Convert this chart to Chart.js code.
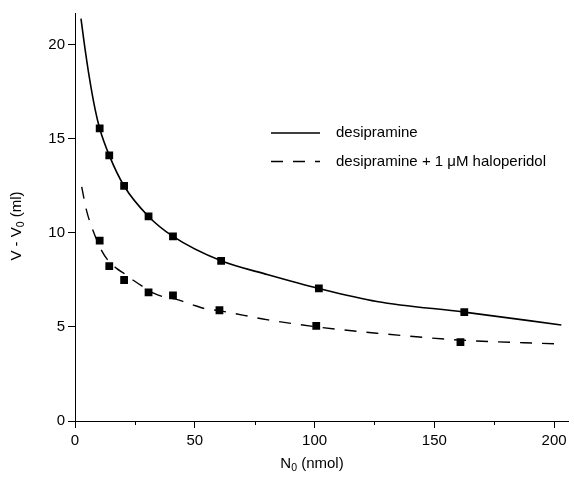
<!DOCTYPE html>
<html><head><meta charset="utf-8">
<script src="https://cdn.jsdelivr.net/npm/chart.js@4/dist/chart.umd.min.js"></script>
<style>html,body{margin:0;padding:0;background:#fff;}</style>
</head><body>
<canvas id="c" width="574" height="484" style="width:574px;height:484px;display:block"></canvas>
<script>
// fitted curve (desipramine)
const desiCurveX = [2.5, 3.85, 5.9, 8.4, 10.3, 14.3, 20.5, 30.7, 40.9, 61, 80.6, 101.8, 126, 162.5, 203];
const desiCurveY = [21.4, 20.1, 18.34, 16.57, 15.56, 14.13, 12.5, 10.88, 9.82, 8.52, 7.78, 7.05, 6.36, 5.79, 5.11];
// fitted curve (desipramine + haloperidol)
const haloCurveX = [2.8, 4.8, 7.6, 11.3, 13.8, 17.2, 20.9, 24.5, 28.9, 32.8, 36.5, 42, 45.5, 50.3, 54.4, 60, 80.6, 100, 126, 160, 201];
const haloCurveY = [12.45, 11.2, 10.1, 9.02, 8.54, 8.13, 7.81, 7.47, 7.10, 6.80, 6.62, 6.48, 6.34, 6.13, 5.97, 5.87, 5.38, 5.02, 4.67, 4.31, 4.10];
// measured points
const desiX = [10.3, 14.3, 20.5, 30.7, 40.9, 61.0, 101.8, 162.5];
const desiY = [15.56, 14.13, 12.50, 10.88, 9.82, 8.52, 7.05, 5.79];
const haloX = [10.3, 14.3, 20.5, 30.7, 40.9, 60.3, 100.7, 160.9];
const haloY = [9.59, 8.24, 7.50, 6.84, 6.68, 5.89, 5.06, 4.19];
// axes
const xTicksMajor = [0, 50, 100, 150, 200];
const yTicks = [0, 5, 10, 15, 20];
const legendLabels = ["desipramine", "desipramine + 1 \u03BCM haloperidol"];

const FONT = '"Liberation Sans", Arial, sans-serif';
const pts = (xs, ys) => xs.map((x, i) => ({x, y: ys[i]}));

function drawSubText(ctx, parts, x, y, size, align) {
  let total = 0;
  const widths = parts.map(([t, sub]) => {
    ctx.font = (sub ? size * 0.7 : size) + 'px ' + FONT;
    const w = ctx.measureText(t).width; total += w; return w;
  });
  let cx = align === 'center' ? x - total / 2 : x;
  parts.forEach(([t, sub], i) => {
    ctx.font = (sub ? size * 0.7 : size) + 'px ' + FONT;
    ctx.textAlign = 'left';
    ctx.textBaseline = 'middle';
    ctx.fillText(t, cx, sub ? y + size * 0.28 : y);
    cx += widths[i];
  });
}

const extras = {
  id: 'extras',
  afterDraw(chart) {
    const ctx = chart.ctx;
    const xs = chart.scales.x, ys = chart.scales.y;
    ctx.save();
    ctx.fillStyle = '#000';
    ctx.strokeStyle = '#000';
    ctx.lineWidth = 1;
    [25, 75, 125, 175].forEach(v => {
      const px = Math.round(xs.getPixelForValue(v)) + 0.5;
      ctx.beginPath(); ctx.moveTo(px, ys.bottom); ctx.lineTo(px, ys.bottom + 4); ctx.stroke();
    });
    drawSubText(ctx, [['N', false], ['0', true], [' (nmol)', false]], 312, 464, 15, 'center');
    ctx.save();
    ctx.translate(17, 226);
    ctx.rotate(-Math.PI / 2);
    drawSubText(ctx, [['V - V', false], ['0', true], [' (ml)', false]], 0, 0, 15, 'center');
    ctx.restore();
    const ds = chart.data.datasets;
    [[ds[0], 133], [ds[1], 161.5]].forEach(([d, y], i) => {
      ctx.lineWidth = d.borderWidth;
      ctx.setLineDash(d.borderDash || []);
      ctx.beginPath(); ctx.moveTo(271, y); ctx.lineTo(320, y); ctx.stroke();
      ctx.setLineDash([]);
      ctx.font = '15px ' + FONT;
      ctx.textAlign = 'left'; ctx.textBaseline = 'middle';
      ctx.fillText(legendLabels[i], 336, y);
    });
    ctx.restore();
  }
};

new Chart(document.getElementById('c'), {
  type: 'scatter',
  data: {
    datasets: [
      {type: 'line', label: legendLabels[0], data: pts(desiCurveX, desiCurveY), borderColor: '#000', borderWidth: 1.6,
       pointRadius: 0, fill: false, cubicInterpolationMode: 'monotone'},
      {type: 'line', label: legendLabels[1], data: pts(haloCurveX, haloCurveY), borderColor: '#000', borderWidth: 1.4,
       borderDash: [12, 10], pointRadius: 0, fill: false, cubicInterpolationMode: 'monotone'},
      {label: 'desi pts', data: pts(desiX, desiY), pointStyle: 'rect', pointRadius: 5.5, backgroundColor: '#000', borderColor: '#000', borderWidth: 0},
      {label: 'halo pts', data: pts(haloX, haloY), pointStyle: 'rect', pointRadius: 5.5, backgroundColor: '#000', borderColor: '#000', borderWidth: 0}
    ]
  },
  options: {
    responsive: false,
    animation: false,
    devicePixelRatio: 1,
    layout: {padding: {top: 13, right: 1, left: 0, bottom: 0}},
    plugins: {legend: {display: false}, tooltip: {enabled: false}},
    scales: {
      x: {
        type: 'linear', min: 0, max: 206,
        afterFit: s => { s.height = 63; },
        ticks: {stepSize: 25, includeBounds: false, autoSkip: false, maxRotation: 0, color: '#000', padding: 4,
                font: {family: FONT, size: 15},
                callback: v => xTicksMajor.includes(v) ? String(v) : ''},
        grid: {drawOnChartArea: false, drawTicks: true, tickLength: 7, color: '#000',
               tickColor: c => (c.tick && xTicksMajor.includes(c.tick.value)) ? '#000' : 'rgba(0,0,0,0)'},
        border: {display: true, color: '#000', width: 1}
      },
      y: {
        type: 'linear', min: 0, max: 21.7,
        afterFit: s => { s.width = 75; },
        ticks: {stepSize: 5, includeBounds: false, color: '#000', padding: 3,
                font: {family: FONT, size: 15},
                callback: v => yTicks.includes(v) ? String(v) : ''},
        grid: {drawOnChartArea: false, drawTicks: true, tickLength: 7, color: '#000'},
        border: {display: true, color: '#000', width: 1}
      }
    }
  },
  plugins: [extras]
});
</script>
</body></html>
